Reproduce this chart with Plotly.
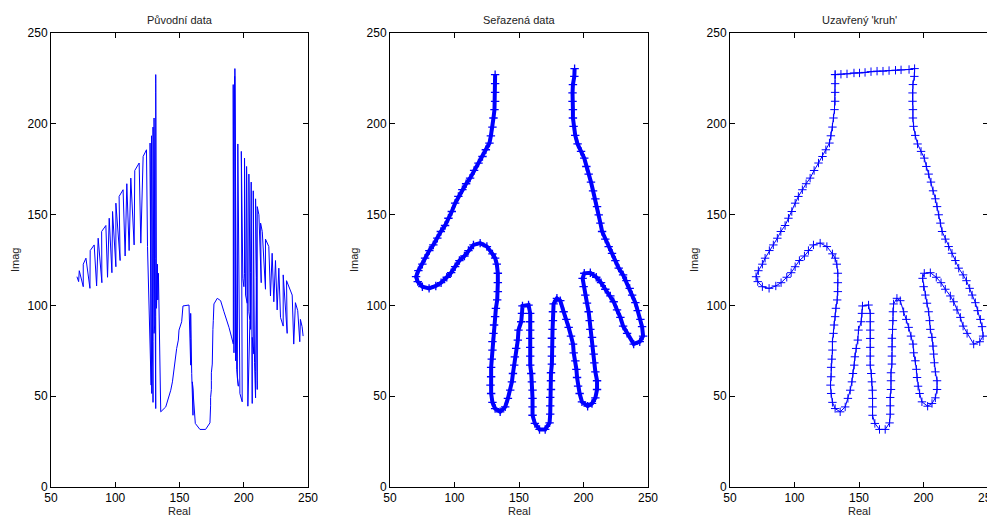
import numpy as np
import plotly.graph_objects as go

# Hand contour, ordered along the outline (open at the wrist)
contour_x = [131.5, 131.5, 131.5, 131.5, 131.0, 130.2, 129.4, 128.2, 127.1, 124.3,
             121.7, 118.6, 115.2, 112.1, 109.0, 106.1, 103.0, 100.5, 97.9, 95.3,
             92.7, 89.4, 86.7, 83.6, 80.5, 77.2, 75.1, 72.0, 70.2, 71.5,
             75.1, 80.3, 85.5, 89.6, 94.0, 97.4, 100.5, 103.8, 107.7, 110.8,
             114.7, 119.9, 125.1, 129.4, 131.5, 132.8, 133.6, 133.6, 133.6, 133.1,
             132.1, 131.5, 130.7, 130.2, 129.4, 129.4, 128.9, 128.4, 128.4, 127.9,
             128.4, 129.4, 131.5, 135.4, 139.3, 141.4, 143.2, 144.5, 145.3, 146.3,
             146.8, 147.8, 149.1, 149.6, 151.7, 152.3, 152.7, 157.4, 158.7, 158.7,
             158.7, 158.7, 158.7, 158.7, 158.7, 159.5, 160.0, 160.5, 160.5, 160.5,
             160.5, 162.3, 165.9, 170.3, 173.7, 174.2, 174.2, 174.2, 174.8, 174.8,
             174.8, 175.5, 175.5, 175.5, 175.5, 176.0, 176.3, 176.3, 176.8, 179.4,
             182.0, 184.6, 186.7, 188.5, 190.3, 191.9, 192.4, 193.7, 194.5, 195.0,
             195.8, 197.0, 198.8, 203.2, 206.6, 209.2, 210.5, 210.5, 209.2, 208.4,
             207.9, 207.4, 206.6, 205.3, 204.8, 204.0, 202.7, 201.4, 200.1, 199.3,
             200.6, 205.3, 209.9, 213.6, 216.9, 220.8, 223.4, 226.0, 228.6, 230.7,
             233.8, 238.9, 243.6, 246.2, 245.4, 244.1, 242.0, 240.2, 237.7, 235.8,
             233.3, 230.7, 227.3, 224.7, 222.1, 219.5, 216.9, 214.4, 213.1, 211.8,
             210.5, 209.2, 207.4, 205.8, 204.0, 202.2, 200.6, 198.1, 195.4, 193.6,
             192.3, 191.8, 191.8, 191.5, 191.5, 191.8, 192.9, 193.1]
contour_y = [227.1, 222.1, 217.3, 212.4, 207.8, 203.2, 198.2, 193.4, 189.4, 185.7,
             182.0, 178.4, 174.3, 170.1, 167.0, 163.7, 160.0, 156.3, 151.7, 148.0,
             144.0, 140.7, 137.0, 133.3, 130.2, 126.0, 122.7, 119.1, 115.8, 113.1,
             110.3, 109.4, 110.7, 112.5, 115.5, 118.0, 121.3, 124.7, 127.2, 130.2,
             133.3, 134.3, 132.4, 128.4, 126.0, 122.7, 117.7, 112.5, 107.6, 103.0,
             98.4, 93.8, 89.2, 84.6, 80.0, 75.4, 70.4, 65.9, 60.7, 56.1,
             51.5, 46.6, 43.2, 41.4, 44.1, 48.8, 53.3, 57.9, 62.5, 67.1,
             71.7, 76.3, 80.9, 86.4, 91.0, 95.6, 99.7, 100.2, 95.6, 91.0,
             86.4, 81.8, 76.9, 72.1, 67.1, 62.5, 57.9, 53.3, 48.8, 44.1,
             39.5, 35.0, 31.7, 31.7, 35.3, 40.1, 44.7, 49.3, 53.7, 58.5,
             62.9, 67.7, 72.1, 77.2, 81.9, 86.8, 91.6, 96.5, 100.8, 103.9,
             102.6, 96.5, 92.3, 87.9, 83.1, 78.7, 73.9, 69.5, 64.8, 60.3,
             55.5, 51.5, 46.9, 44.5, 46.0, 49.1, 53.7, 58.5, 63.4, 68.4,
             73.2, 77.6, 82.4, 86.8, 91.6, 96.5, 101.2, 105.7, 110.3, 114.9,
             117.7, 118.0, 115.5, 112.5, 108.9, 105.2, 102.0, 97.5, 93.4, 88.6,
             84.6, 78.7, 80.0, 83.1, 88.3, 92.3, 97.1, 101.5, 105.7, 109.4,
             113.6, 116.8, 120.5, 124.7, 128.7, 132.4, 136.5, 140.7, 145.3, 149.9,
             154.4, 158.7, 163.1, 167.9, 172.3, 176.5, 181.1, 184.8, 188.9, 193.6,
             198.6, 203.2, 207.8, 212.4, 217.0, 221.6, 226.1, 230.4]

# Points that close the ring across the wrist (right to left)
wrist_x = [188.8, 182.6, 178.3, 173.3, 168.6, 164.0, 159.3, 154.7, 150.4, 146.1, 140.7, 136.0]
wrist_y = [229.9, 229.7, 229.5, 229.3, 229.0, 229.0, 228.7, 228.3, 228.0, 228.0, 227.5, 227.3]

titles = ["Původní data", "Seřazená data", "Uzavřený 'kruh'"]
x_ticks = [50, 100, 150, 200, 250]
y_ticks = [0, 50, 100, 150, 200, 250]

cx = np.array(contour_x)
cy = np.array(contour_y)

# "original" order: scanned column by column (by pixel column, then by row)
order = np.lexsort((cy, np.floor(cx)))
raw_x = cx[order]
raw_y = cy[order]

# closed ring
ring_x = list(contour_x) + wrist_x + [contour_x[0]]
ring_y = list(contour_y) + wrist_y + [contour_y[0]]

BLUE = "#0000FF"
fig = go.Figure()

fig.add_trace(go.Scatter(x=raw_x, y=raw_y, mode="lines",
                         line=dict(color=BLUE, width=1), xaxis="x", yaxis="y",
                         showlegend=False, hoverinfo="skip"))
fig.add_trace(go.Scatter(x=contour_x, y=contour_y, mode="lines+markers",
                         line=dict(color=BLUE, width=4),
                         marker=dict(symbol="cross-thin", size=6,
                                     line=dict(color=BLUE, width=1.3)),
                         xaxis="x2", yaxis="y2", showlegend=False, hoverinfo="skip"))
fig.add_trace(go.Scatter(x=ring_x, y=ring_y, mode="lines+markers",
                         line=dict(color=BLUE, width=1),
                         marker=dict(symbol="cross-thin", size=6,
                                     line=dict(color=BLUE, width=1)),
                         xaxis="x3", yaxis="y3", showlegend=False, hoverinfo="skip"))

# The page body has an 8px margin, so the figure is shifted by OFF pixels
OFF = 8
W, H = 995 - OFF, 515 - OFF
ML, MR, MT, MB = 51 - OFF, 995 - 988, 33 - OFF, 515 - 487
PW, PH = W - ML - MR, H - MT - MB


def px2x(px):
    return (px - OFF - ML) / PW


def py2y(py):
    return (H - MB - (py - OFF)) / PH


xd = [(51, 308), (390, 648), (730, 988)]

axis_common = dict(showline=True, linecolor="black", linewidth=1, mirror="ticks",
                   ticks="inside", ticklen=5, tickcolor="black", tickwidth=1,
                   showgrid=False, zeroline=False, automargin=False,
                   ticklabeloverflow="allow",
                   tickfont=dict(family="Liberation Sans, Arial, sans-serif", size=12, color="black"))

layout = dict(template="none", width=W, height=H,
              margin=dict(l=ML, r=MR, t=MT, b=MB, pad=0),
              paper_bgcolor="white", plot_bgcolor="white",
              font=dict(family="Liberation Sans, Arial, sans-serif", size=11, color="black"))
annotations = []
for i in range(3):
    sfx = "" if i == 0 else str(i + 1)
    layout["xaxis" + sfx] = dict(axis_common, domain=[px2x(xd[i][0]), px2x(xd[i][1])],
                                range=[50, 250], tickvals=x_ticks,
                                anchor="y" + sfx)
    layout["yaxis" + sfx] = dict(axis_common, domain=[0, 1],
                                range=[0, 250], tickvals=y_ticks,
                                anchor="x" + sfx)
    cxp = px2x((xd[i][0] + xd[i][1]) / 2)
    annotations.append(dict(text=titles[i], x=cxp, y=py2y(20), xref="paper", yref="paper",
                            showarrow=False, xanchor="center", yanchor="middle",
                            font=dict(size=11, color="#222")))
    annotations.append(dict(text="Real", x=cxp, y=py2y(503), xref="paper", yref="paper",
                            showarrow=False, xanchor="center", yanchor="top",
                            font=dict(size=11, color="#222")))
    annotations.append(dict(text="Imag", x=px2x([15, 354, 694][i]), y=py2y(260),
                            xref="paper", yref="paper", textangle=-90,
                            showarrow=False, xanchor="center", yanchor="middle",
                            font=dict(size=11, color="#222")))
layout["annotations"] = annotations
fig.update_layout(**layout)

fig.write_html("out.html")
